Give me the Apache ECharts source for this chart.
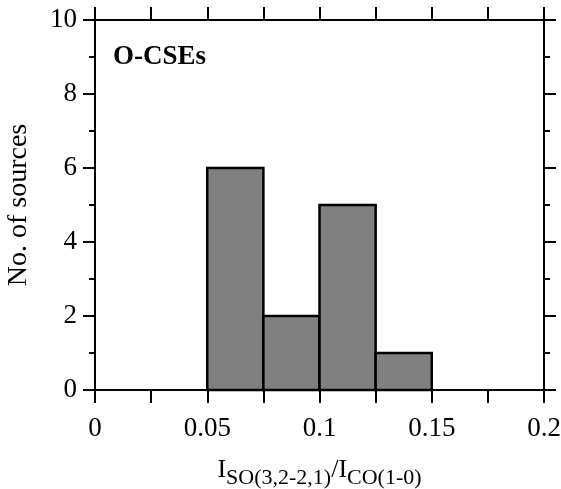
<!DOCTYPE html>
<html>
<head>
<meta charset="utf-8">
<script src="https://cdn.jsdelivr.net/npm/echarts@6/dist/echarts.min.js"></script>
<style>html,body{margin:0;padding:0;background:#fff}#c{width:561px;height:489px}</style>
</head>
<body>
<div id="c"></div>
<script>
// Histogram bins (lower edge, upper edge) and counts
const binStarts = [0.05, 0.075, 0.1, 0.125];
const binEnds = [0.075, 0.1, 0.125, 0.15];
const counts = [6, 2, 5, 1];
const xTicks = [0, 0.05, 0.1, 0.15, 0.2];
const yTicks = [0, 2, 4, 6, 8, 10];
const label = 'O-CSEs';

const FONT = '"Liberation Serif", "Times New Roman", serif';
const chart = echarts.init(document.getElementById('c'), null, {renderer: 'canvas'});

const data = binStarts.map((s, i) => [s, binEnds[i], counts[i]]);

const axisCommon = {
  axisLine: {show: true, onZero: false, lineStyle: {color: '#000', width: 2}},
  splitLine: {show: false},
};

chart.setOption({
  animation: false,
  backgroundColor: '#fff',
  grid: {left: 95, right: 17, top: 20, bottom: 99, containLabel: false, outerBoundsMode: 'none'},
  xAxis: [
    Object.assign({}, axisCommon, {
      type: 'value', position: 'bottom', min: 0, max: 0.2, interval: 0.05,
      axisTick: {show: true, inside: false, length: 13, lineStyle: {color: '#000', width: 2}},
      minorTick: {show: true, splitNumber: 2, length: 13, lineStyle: {color: '#000', width: 2}},
      axisLabel: {margin: 25, color: '#000', fontFamily: FONT, fontSize: 27,
        formatter: v => { const r = Math.round(v * 1000) / 1000; return xTicks.indexOf(r) >= 0 ? String(r) : ''; }},
      name: '{a|I}{b|SO(3,2-2,1)}{a|/I}{b|CO(1-0)}',
      nameLocation: 'middle', nameGap: 65,
      nameTextStyle: {
        rich: {
          a: {fontFamily: FONT, fontSize: 26, color: '#000', lineHeight: 28, verticalAlign: 'bottom'},
          b: {fontFamily: FONT, fontSize: 22, color: '#000', lineHeight: 20, verticalAlign: 'bottom', padding: [0, 0, -6, 0]}
        }
      }
    }),
    Object.assign({}, axisCommon, {
      type: 'value', position: 'top', min: 0, max: 0.2, interval: 0.05,
      axisTick: {show: true, inside: false, length: 13, lineStyle: {color: '#000', width: 2}},
      minorTick: {show: true, splitNumber: 2, length: 13, lineStyle: {color: '#000', width: 2}},
      axisLabel: {show: false}
    })
  ],
  yAxis: [
    Object.assign({}, axisCommon, {
      type: 'value', position: 'left', min: 0, max: 10, interval: 2,
      axisTick: {show: true, inside: false, length: 12, lineStyle: {color: '#000', width: 2}},
      minorTick: {show: true, splitNumber: 2, length: 6, lineStyle: {color: '#000', width: 2}},
      axisLabel: {margin: 18, color: '#000', fontFamily: FONT, fontSize: 27,
        formatter: v => yTicks.indexOf(v) >= 0 ? String(v) : ''},
      name: 'No. of sources', nameLocation: 'middle', nameGap: 62,
      nameTextStyle: {fontFamily: FONT, fontSize: 28, color: '#000'}
    }),
    Object.assign({}, axisCommon, {
      type: 'value', position: 'right', min: 0, max: 10, interval: 2,
      axisTick: {show: true, inside: false, length: 12, lineStyle: {color: '#000', width: 2}},
      minorTick: {show: true, splitNumber: 2, length: 6, lineStyle: {color: '#000', width: 2}},
      axisLabel: {show: false}
    })
  ],
  graphic: [{
    type: 'text', left: 113, top: 44,
    style: {text: label, font: 'bold 27px ' + FONT, fill: '#000'}
  }],
  series: [{
    type: 'custom',
    xAxisIndex: 0, yAxisIndex: 0,
    data: data,
    renderItem: function (params, api) {
      const p0 = api.coord([api.value(0), 0]);
      const p1 = api.coord([api.value(1), api.value(2)]);
      return {
        type: 'rect',
        shape: {x: p0[0], y: p1[1], width: p1[0] - p0[0], height: p0[1] - p1[1]},
        style: {fill: '#808080', stroke: '#000', lineWidth: 2.5}
      };
    }
  }]
});
</script>
</body>
</html>
